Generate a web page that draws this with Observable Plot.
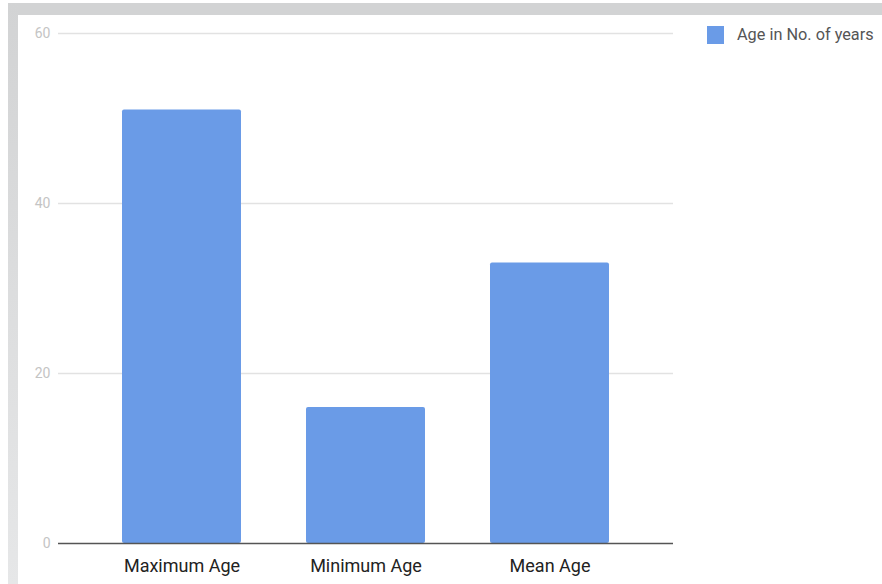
<!DOCTYPE html>
<html>
<head>
<meta charset="utf-8">
<script src="https://cdn.jsdelivr.net/npm/d3@7"></script>
<script src="https://cdn.jsdelivr.net/npm/@observablehq/plot@0.6"></script>
<style>
  html, body { margin: 0; padding: 0; background: #fff; }
  #wrap { position: relative; width: 882px; height: 584px; overflow: hidden; background: #fff; font-family: Roboto, sans-serif; }
  #topband { position: absolute; left: 8px; top: 3px; width: 874px; height: 12px; background: #d2d3d4; }
  #leftband { position: absolute; left: 8px; top: 3px; width: 10px; height: 581px; background: linear-gradient(#d2d3d4, #e6e7e8); }
  #chart { position: absolute; left: 0; top: 0; }
  #legend { position: absolute; left: 707px; top: 25px; display: flex; align-items: center; font-family: Roboto, sans-serif; font-size: 16.3px; color: #555; }
  #legend .sw { width: 17px; height: 18px; margin-right: 13px; }
</style>
</head>
<body>
<div id="wrap">
  <div id="topband"></div>
  <div id="leftband"></div>
  <div id="chart"></div>
  <div id="legend"><div class="sw"></div><span id="legtext"></span></div>
</div>
<script>
const categories = ["Maximum Age", "Minimum Age", "Mean Age"];
const ages = [51, 16, 33];
const yTicks = [0, 20, 40, 60];
const seriesName = "Age in No. of years";
const barColor = "#6a9be7";

const data = categories.map((c, i) => ({category: c, value: ages[i]}));

const chart = Plot.plot({
  width: 882,
  height: 584,
  marginLeft: 58,
  marginRight: 209,
  marginTop: 33,
  marginBottom: 41,
  style: {fontFamily: "Roboto, sans-serif", background: "transparent", overflow: "visible"},
  x: {domain: categories, paddingInner: 0.355, paddingOuter: 0.344, label: null},
  y: {domain: [0, 60], label: null},
  marks: [
    Plot.ruleY(yTicks.filter(d => d !== 0), {stroke: "#e2e2e2", strokeWidth: 1.5}),
    Plot.barY(data, {x: "category", y: "value", fill: barColor, rx: 2}),
    Plot.ruleY([0], {stroke: "#555", strokeWidth: 1.5}),
    Plot.axisY({ticks: yTicks, tickSize: 0, tickPadding: 8, fontSize: 14, color: "#c4c4c4", label: null}),
    Plot.axisX({tickSize: 0, tickPadding: 16, fontSize: 18, color: "#222", label: null})
  ]
});
document.getElementById("chart").appendChild(chart);
document.querySelector("#legend .sw").style.background = barColor;
document.getElementById("legtext").textContent = seriesName;
</script>
</body>
</html>
